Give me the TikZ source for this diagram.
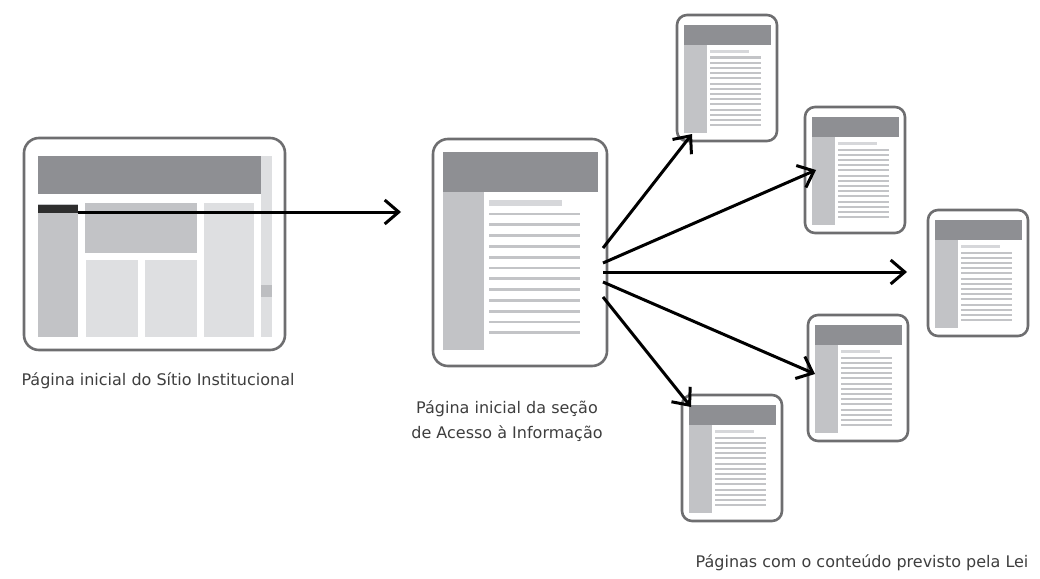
\documentclass[tikz,border=0pt]{standalone}
\usepackage{fontspec}
\setmainfont{DejaVu Sans}
\usetikzlibrary{arrows.meta}
\definecolor{framec}{HTML}{6E6E70}
\definecolor{hdrc}{HTML}{8E8F93}
\definecolor{sidec}{HTML}{C2C3C6}
\definecolor{lightc}{HTML}{DEDFE1}
\definecolor{linec}{HTML}{C3C4C7}
\definecolor{shortc}{HTML}{D6D7DA}
\definecolor{thumbc}{HTML}{BDBEC1}
\definecolor{textc}{HTML}{3E3E3E}
\tikzset{
  devframe/.style={draw=framec, line width=2.6pt, fill=white, rectangle, inner sep=0pt, outer sep=0pt},
  hdr/.style={fill=hdrc},
  side/.style={fill=sidec},
  lightbox/.style={fill=lightc},
  textline/.style={draw=linec, line width=2.7pt},
  textlineS/.style={draw=linec, line width=2pt},
  shortline/.style={fill=shortc},
  link/.style={draw=black, line width=3pt, -{Straight Barb[length=14pt,width=24pt,line width=3pt]}},
  lbl/.style={text=textc, font=\fontsize{16pt}{25pt}\selectfont, inner sep=0pt},
  smalldev/.pic={
    \node[devframe, rounded corners=10pt, minimum width=100pt, minimum height=126pt, anchor=north west] (-frame) at (0,0) {};
    \fill[hdr] (7,10) rectangle (94,30);
    \fill[side] (7,30) rectangle (30,118);
    \fill[shortline] (33,35) rectangle (72,38);
    \foreach \i in {0,...,13} \draw[textlineS] (33,{42.5+5.2*\i}) -- (84,{42.5+5.2*\i});
  }
}
\begin{document}
\begin{tikzpicture}[x=1pt,y=-1pt]
\useasboundingbox (0,0) rectangle (1040,578);
% big site page
\node[devframe, rounded corners=15pt, minimum width=261pt, minimum height=212pt, anchor=north west] (site) at (24,138) {};
\fill[hdr] (38,156) rectangle (261,194);
\fill[lightbox] (261,156) rectangle (272,337);
\fill[thumbc] (261,285) rectangle (272,297);
\fill[side] (38,204) rectangle (78,337);
\fill[black!82] (38,205) rectangle (78,213);
\fill[side] (85,203) rectangle (197,253);
\fill[lightbox] (204,203) rectangle (254,337);
\fill[lightbox] (86,260) rectangle (138,337);
\fill[lightbox] (145,260) rectangle (197,337);
\coordinate (navitem) at (78,212);
% middle section page
\node[devframe, rounded corners=15pt, minimum width=174pt, minimum height=227pt, anchor=north west] (section) at (433,139) {};
\fill[hdr] (443,152) rectangle (598,192);
\fill[side] (443,192) rectangle (484,350);
\fill[shortline] (489,200) rectangle (562,206);
\foreach \i in {0,...,11} \draw[textline] (489,{214+10.8*\i}) -- (580,{214+10.8*\i});
% small pages
\pic (pA) at (677,15) {smalldev};
\pic (pB) at (805,107) {smalldev};
\pic (pC) at (928,210) {smalldev};
\pic (pD) at (808,315) {smalldev};
\pic (pE) at (682,395) {smalldev};
% arrow coordinates
\coordinate (secin) at (401,212);
\coordinate (s1) at (603,248);
\coordinate (s2) at (603,263);
\coordinate (s3) at (603,272);
\coordinate (s4) at (603,282);
\coordinate (s5) at (603,297);
\coordinate (tA) at (692,134);
\coordinate (tB) at (816,170);
\coordinate (tC) at (907,272);
\coordinate (tD) at (815,374);
\coordinate (tE) at (691,407);
\draw[link] (navitem) -- (secin);
\draw[link] (s1) -- (tA);
\draw[link] (s2) -- (tB);
\draw[link] (s3) -- (tC);
\draw[link] (s4) -- (tD);
\draw[link] (s5) -- (tE);
% labels
\node[lbl] (l1) at (158,381) {Página inicial do Sítio Institucional};
\node[lbl, align=center] (l2) at (507,421) {Página inicial da seção\\de Acesso à Informação};
\node[lbl] (l3) at (862,563) {Páginas com o conteúdo previsto pela Lei};
\end{tikzpicture}
\end{document}
